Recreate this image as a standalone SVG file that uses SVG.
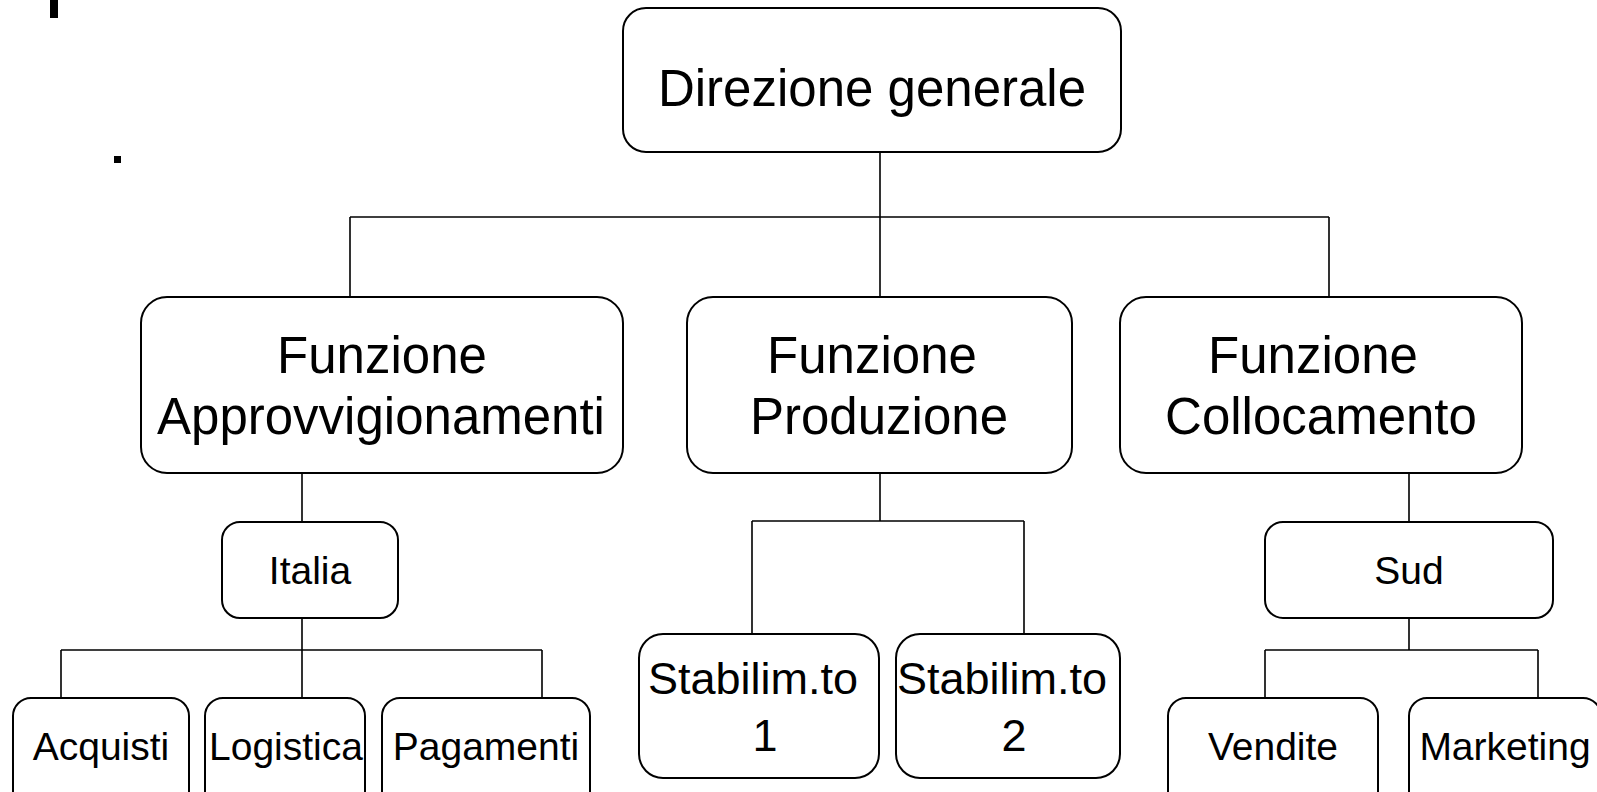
<svg xmlns="http://www.w3.org/2000/svg" width="1597" height="792" viewBox="0 0 1597 792">
<style>
.box{fill:#fff;stroke:#000;stroke-width:2}
.ln{fill:none;stroke:#000;stroke-width:1.6}
text{font-family:"Liberation Sans",Arial,sans-serif;fill:#000;text-anchor:middle}
.t50{font-size:51px}
.t44{font-size:45px}
.t38{font-size:39px}
</style>
<rect x="0" y="0" width="1597" height="792" fill="#fff"/>
<rect x="50" y="0" width="8" height="18" fill="#000"/>
<rect x="114" y="156" width="7" height="7" fill="#000"/>
<g id="connectors">
<path class="ln" d="M880 152V297M350 217H1329M350 217V297M1329 217V297"/>
<path class="ln" d="M302 473V522M302 618V698M61 650H542M61 650V698M542 650V698"/>
<path class="ln" d="M880 473V521M752 521H1024M752 521V634M1024 521V634"/>
<path class="ln" d="M1409 473V522M1409 618V650M1265 650H1538M1265 650V698M1538 650V698"/>
</g>
<g id="direzione"><rect class="box" x="623" y="8" width="498" height="144" rx="23"/><text class="t50" x="872" y="106">Direzione generale</text></g>
<g id="approv"><rect class="box" x="141" y="297" width="482" height="176" rx="26"/><text class="t50" x="382" y="373">Funzione</text><text class="t50" x="381" y="434">Approvvigionamenti</text></g>
<g id="produzione"><rect class="box" x="687" y="297" width="385" height="176" rx="26"/><text class="t50" x="872" y="373">Funzione</text><text class="t50" x="879" y="434">Produzione</text></g>
<g id="collocamento"><rect class="box" x="1120" y="297" width="402" height="176" rx="26"/><text class="t50" x="1313" y="373">Funzione</text><text class="t50" x="1321" y="434">Collocamento</text></g>
<g id="italia"><rect class="box" x="222" y="522" width="176" height="96" rx="18"/><text class="t38" x="310" y="584">Italia</text></g>
<g id="sud"><rect class="box" x="1265" y="522" width="288" height="96" rx="18"/><text class="t38" x="1409" y="584">Sud</text></g>
<g id="stab1"><rect class="box" x="639" y="634" width="240" height="144" rx="24"/><text class="t44" x="753" y="694">Stabilim.to</text><text class="t44" x="765" y="751">1</text></g>
<g id="stab2"><rect class="box" x="896" y="634" width="224" height="144" rx="24"/><text class="t44" x="1002" y="694">Stabilim.to</text><text class="t44" x="1014" y="751">2</text></g>
<g id="acquisti"><rect class="box" x="13" y="698" width="176" height="130" rx="18"/><text class="t38" x="101" y="760">Acquisti</text></g>
<g id="logistica"><rect class="box" x="205" y="698" width="160" height="130" rx="18"/><text class="t38" x="286" y="760">Logistica</text></g>
<g id="pagamenti"><rect class="box" x="382" y="698" width="208" height="130" rx="18"/><text class="t38" x="486" y="760">Pagamenti</text></g>
<g id="vendite"><rect class="box" x="1168" y="698" width="210" height="130" rx="18"/><text class="t38" x="1273" y="760">Vendite</text></g>
<g id="marketing"><rect class="box" x="1409" y="698" width="192" height="130" rx="18"/><text class="t38" x="1505" y="760">Marketing</text></g>
</svg>
